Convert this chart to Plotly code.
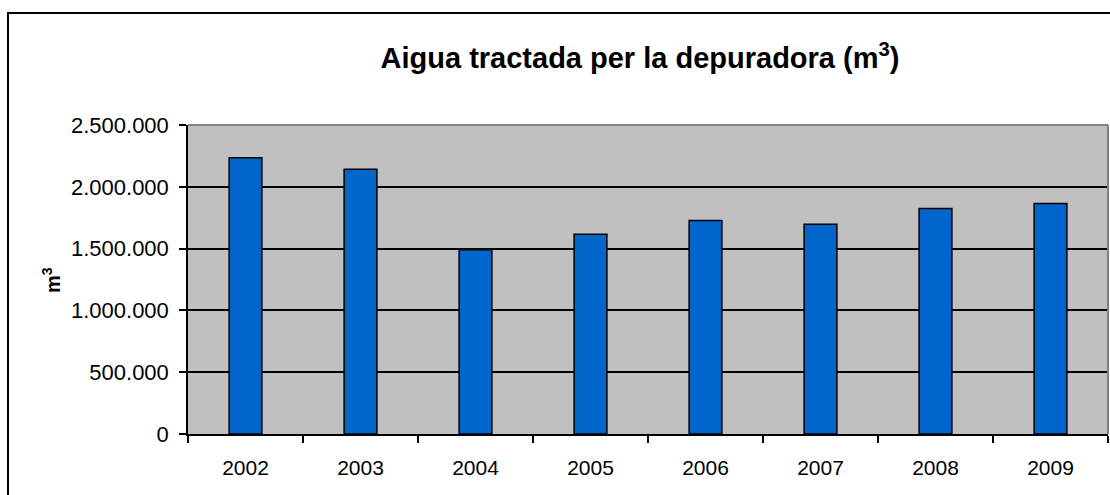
import plotly.graph_objects as go

years = ["2002", "2003", "2004", "2005", "2006", "2007", "2008", "2009"]
water_m3 = [2236000, 2142000, 1490000, 1617000, 1727000, 1698000, 1824000, 1864000]
y_ticks = [0, 500000, 1000000, 1500000, 2000000, 2500000]

W, H = 1110, 495
L, R, T, B = 188, 2, 125, 61
pw, ph = W - L - R, H - T - B

def px_x(x):
    return (x - L) / pw

def px_y(y):
    return (H - B - y) / ph

fig = go.Figure()
fig.add_trace(go.Bar(
    x=years, y=water_m3,
    marker=dict(color="#0066CC", line=dict(color="black", width=1.5)),
    width=0.285,
))

font = "Liberation Sans, Arial, sans-serif"
fig.update_layout(
    width=W, height=H,
    margin=dict(l=L, r=R, t=T, b=B),
    paper_bgcolor="white",
    plot_bgcolor="#C0C0C0",
    separators=",.",
    showlegend=False,
    font=dict(family=font, color="black", size=21),
    title=dict(
        text="<b>Aigua tractada per la depuradora (m<sup>3</sup>)</b>",
        font=dict(family=font, size=29, color="black"),
        x=640 / W, xanchor="center",
        y=1 - 58 / H, yanchor="middle", yref="container",
    ),
    xaxis=dict(
        type="category",
        tickson="boundaries",
        ticks="outside", ticklen=7, tickcolor="black", tickwidth=1.5,
        showline=True, linecolor="black", linewidth=1.5,
        showgrid=False,
        tickfont=dict(family=font, size=21, color="black"),
        ticklabelstandoff=14,
    ),
    yaxis=dict(
        range=[0, 2500000],
        tickvals=y_ticks,
        tickformat=",d",
        ticks="outside", ticklen=7, tickcolor="black", tickwidth=1.5,
        showline=True, linecolor="black", linewidth=1.5,
        showgrid=True, gridcolor="black", gridwidth=1.5,
        zeroline=False,
        tickfont=dict(family=font, size=22, color="black"),
        ticklabelstandoff=6,
    ),
    annotations=[dict(
        text="<b>m<sup>3</sup></b>",
        xref="paper", yref="paper",
        x=px_x(51), y=px_y(280),
        xanchor="center", yanchor="middle",
        textangle=-90, showarrow=False,
        font=dict(family=font, size=20, color="black"),
    )],
    shapes=[
        dict(type="line", xref="paper", yref="paper", x0=0, x1=1, y0=1, y1=1,
             line=dict(color="#808080", width=2)),
        dict(type="line", xref="paper", yref="paper", x0=1, x1=1, y0=0, y1=1,
             line=dict(color="#808080", width=2)),
        dict(type="rect", xref="paper", yref="paper",
             x0=px_x(8), x1=px_x(1125), y0=px_y(505), y1=px_y(13),
             line=dict(color="black", width=2), fillcolor="rgba(0,0,0,0)", layer="above"),
    ],
)

fig.write_html(
    "out.html",
    config={"displayModeBar": False},
    post_script="document.body.style.margin='0';document.body.style.overflow='hidden';",
)
